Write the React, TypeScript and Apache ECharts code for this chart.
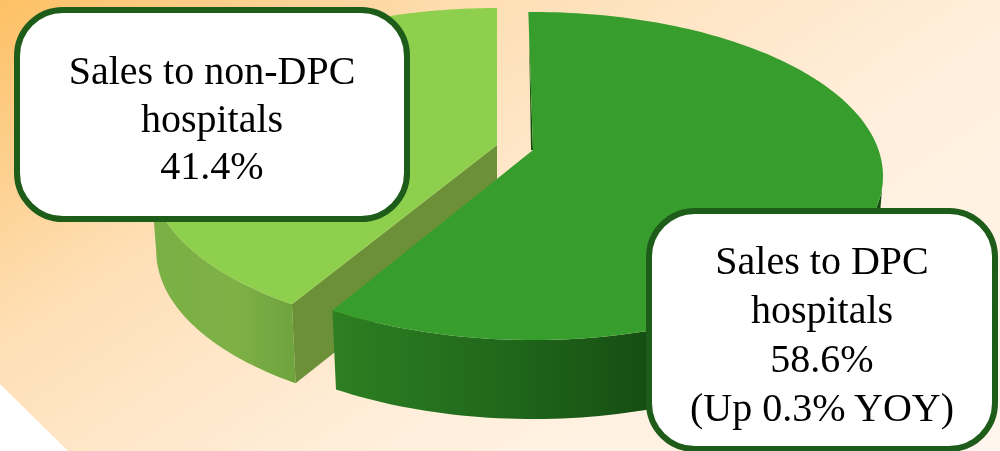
import React, { useEffect, useRef } from "react";
import * as echarts from "echarts";

// Share of sales by hospital type, in percent. Drawn back to front.
const categories = ["Sales to non-DPC hospitals", "Sales to DPC hospitals"];
const shares = [41.4, 58.6];

const nonDpcLabel = ["Sales to non-DPC", "hospitals", "41.4%"];
const dpcLabel = ["Sales to DPC", "hospitals", "58.6%", "(Up 0.3% YOY)"];

const WIDTH = 1000;
const HEIGHT = 451;
const DEPTH = 79;
const BOTTOM_SCALE = 0.982;

// Each wedge sits on its own tilted disc, since the slices are pulled apart.
const discs = [
  {
    cx: 497, cy: 172, rx: 347, ry: 164, tilt: -0.165, rotation: 0,
    top: "#8ecf4d", cut: "#6b9038",
    wall: ["#7ab045", "#7eb046", "#6ea33d"], wallX: [157, 297],
  },
  {
    cx: 533, cy: 176, rx: 350, ry: 164, tilt: -0.1585, rotation: -0.9,
    top: "#379e2e", cut: "#15500f",
    wall: ["#2d7f22", "#1f661a", "#154c12"], wallX: [335, 660],
  },
];

type Pt = [number, number];

// Perspective projection of a point on the unit disc (keeps the rim elliptical,
// moves the centre off the middle of the ellipse).
function project(u: number, v: number, tilt: number): Pt {
  const d = 1 + tilt * v;
  return [(u * Math.sqrt(1 - tilt * tilt)) / d, (v + tilt) / d];
}

function wedgeShapes(index: number) {
  const disc = discs[index];
  const total = shares.reduce((a, b) => a + b, 0);
  let before = 0;
  for (let j = index + 1; j < shares.length; j++) before += shares[j];
  const startDeg = (before / total) * 360 + disc.rotation;
  const endDeg = ((before + shares[index]) / total) * 360 + disc.rotation;

  const top = (p: Pt): Pt => [disc.cx + p[0] * disc.rx, disc.cy + p[1] * disc.ry];
  const bottom = (p: Pt): Pt => [
    disc.cx + p[0] * disc.rx * BOTTOM_SCALE,
    disc.cy + p[1] * disc.ry + DEPTH,
  ];

  const rim: Pt[] = [];
  const steps = 160;
  for (let i = 0; i <= steps; i++) {
    const t = ((startDeg + ((endDeg - startDeg) * i) / steps) * Math.PI) / 180;
    rim.push(project(Math.sin(t), -Math.cos(t), disc.tilt));
  }
  const apex = project(0, 0, disc.tilt);
  const front = rim.filter((p) => p[1] >= -0.01);
  return { disc, rim, apex, front, top, bottom };
}

function renderWedge(params: any) {
  const index = params.dataIndex;
  const { disc, rim, apex, front, top, bottom } = wedgeShapes(index);
  const children: any[] = [];

  // Outer wall of the wedge, shaded from left to right.
  children.push({
    type: "polygon",
    shape: { points: [...front.map(top), ...front.slice().reverse().map(bottom)] },
    style: {
      fill: new echarts.graphic.LinearGradient(
        disc.wallX[0], 0, disc.wallX[1], 0,
        [
          { offset: 0, color: disc.wall[0] },
          { offset: 0.55, color: disc.wall[1] },
          { offset: 1, color: disc.wall[2] },
        ],
        true,
      ),
    },
  });

  if (index === 0) {
    // Cut face visible along the lower edge of the pale wedge.
    const edge = rim[0];
    children.push({
      type: "polygon",
      shape: { points: [top(apex), top(edge), bottom(edge), bottom(apex)] },
      style: { fill: disc.cut },
    });
  } else {
    // Thin shaded sliver along the upright edge of the dark wedge, tapering upward.
    const a = top(apex);
    const e = top(rim[0]);
    const f = 0.85;
    const m: Pt = [a[0] + (e[0] - a[0]) * f, a[1] + (e[1] - a[1]) * f];
    children.push({
      type: "polygon",
      shape: { points: [a, m, [a[0] - 2, a[1]]] },
      style: { fill: disc.cut },
    });
  }

  children.push({
    type: "polygon",
    shape: { points: [top(apex), ...rim.map(top)] },
    style: { fill: disc.top },
  });

  return { type: "group", children };
}

function calloutBox(x: number, y: number, w: number, h: number) {
  return {
    type: "rect",
    z: 100,
    shape: { x, y, width: w, height: h, r: 46 },
    style: { fill: "#ffffff", stroke: "#1e5c1a", lineWidth: 6 },
  };
}

function calloutText(x: number, y: number, lines: string[], lineHeight: number) {
  return {
    type: "text",
    z: 101,
    x,
    y,
    style: {
      text: lines.join("\n"),
      fill: "#000000",
      font: '40px "Liberation Serif"',
      lineHeight,
      align: "center",
      verticalAlign: "middle",
    },
  };
}

export default function App() {
  const ref = useRef<HTMLDivElement>(null);

  useEffect(() => {
    const chart = echarts.init(ref.current!, undefined, { renderer: "svg" });
    chart.setOption({
      animation: false,
      graphic: [
        {
          type: "rect",
          z: -10,
          shape: { x: 0, y: 0, width: WIDTH, height: HEIGHT },
          style: {
            fill: new echarts.graphic.LinearGradient(
              0, 0, 526, 773,
              [
                { offset: 0, color: "#fdc064" },
                { offset: 0.1, color: "#fdcb82" },
                { offset: 0.3, color: "#fedfb5" },
                { offset: 0.6, color: "#ffeeda" },
                { offset: 1, color: "#fff6ee" },
              ],
              true,
            ),
          },
        },
        {
          type: "polygon",
          z: -9,
          shape: { points: [[0, 384], [68, HEIGHT], [0, HEIGHT]] },
          style: { fill: "#ffffff" },
        },
        calloutBox(17, 10, 390, 209),
        calloutText(212, 118, nonDpcLabel, 47.5),
        calloutBox(649, 211, 346, 238),
        calloutText(822, 333.5, dpcLabel, 49),
      ],
      series: [
        {
          type: "custom",
          coordinateSystem: "none",
          silent: true,
          data: categories.map((name, i) => ({ name, value: shares[i] })),
          renderItem: renderWedge,
        },
      ],
    });
    return () => chart.dispose();
  }, []);

  return (
    <div
      ref={ref}
      style={{ position: "fixed", left: 0, top: 0, width: WIDTH, height: HEIGHT }}
    />
  );
}
